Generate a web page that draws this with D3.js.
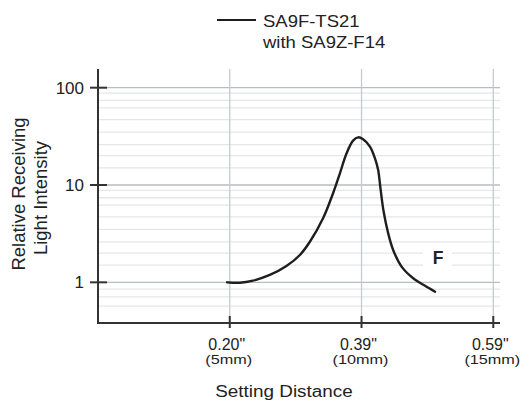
<!DOCTYPE html>
<html>
<head>
<meta charset="utf-8">
<script src="https://cdn.jsdelivr.net/npm/d3@7"></script>
<style>
  body { margin: 0; background: #fff; }
  text { font-family: "Liberation Sans", Arial, sans-serif; fill: #222; }
</style>
</head>
<body>
<div id="chart"></div>
<script>
// setting distance (mm) and relative receiving light intensity along the curve
const distance = [4.9, 5.38, 5.88, 6.52, 7.15, 7.66, 8.04, 8.54, 8.92, 9.18, 9.43, 9.68, 9.87,
  10.06, 10.32, 10.51, 10.63, 10.71, 10.83, 11.01, 11.2, 11.52, 11.96, 12.41, 12.79];
const intensity = [1.0, 0.99, 1.04, 1.19, 1.47, 1.91, 2.61, 4.55, 8.23, 13.2, 21.1, 28.6, 30.9,
  29.5, 24.8, 18.8, 14.3, 9.7, 5.5, 3.2, 2.15, 1.45, 1.1, 0.92, 0.8];

const xTicks = [5, 10, 15];
const xTickInch = ['0.20"', '0.39"', '0.59"'];
const xTickMm = ["(5mm)", "(10mm)", "(15mm)"];
const yTicks = [1, 10, 100];
const yMinor = [0.57, 0.71, 0.85, 1.5, 2, 2.6, 3.5, 4.7, 6.2, 7.4, 8.8,
  15, 20, 26, 35, 47, 62, 74, 88];
const seriesName = ["SA9F-TS21", "with SA9Z-F14"];

const width = 520;
const height = 401;
const margin = { top: 69, left: 98, bottom: 78, right: 20 };

const svg = d3.select("#chart").append("svg")
  .attr("width", width)
  .attr("height", height);

const x = d3.scaleLinear().domain([0, 15]).range([margin.left, 493.3]);
const y = d3.scaleLog().domain([0.382, 155.6]).range([height - margin.bottom, margin.top]);
const x0 = margin.left, x1 = width - margin.right;
const yBot = y.range()[0], yTop = y.range()[1];

// widen text horizontally like the original lettering
function stretch(sel, k) {
  sel.each(function () {
    const w = this.getComputedTextLength();
    d3.select(this).attr("textLength", w * k).attr("lengthAdjust", "spacingAndGlyphs");
  });
}

// minor grid
svg.append("g").selectAll("line").data(yMinor).enter().append("line")
  .attr("x1", x0).attr("x2", x1)
  .attr("y1", d => y(d)).attr("y2", d => y(d))
  .attr("stroke", "#e4e6e8").attr("stroke-width", 1.3);

// major grid
svg.append("g").selectAll("line").data(yTicks).enter().append("line")
  .attr("x1", x0).attr("x2", x1)
  .attr("y1", d => y(d)).attr("y2", d => y(d))
  .attr("stroke", "#b9bcbf").attr("stroke-width", 1.3);

// vertical grid
svg.append("g").selectAll("line").data(xTicks).enter().append("line")
  .attr("x1", d => x(d)).attr("x2", d => x(d))
  .attr("y1", yTop).attr("y2", yBot)
  .attr("stroke", "#c6cacf").attr("stroke-width", 1.3);

// label F with white box
svg.append("rect").attr("x", 423).attr("y", 245).attr("width", 29).attr("height", 22).attr("fill", "#fff");
svg.append("text").attr("x", 438).attr("y", 263.5).attr("text-anchor", "middle")
  .style("font-size", "17.5px").style("font-weight", "bold").text("F");

// curve
const pts = distance.map((d, i) => [d, intensity[i]]);
svg.append("path")
  .datum(pts)
  .attr("fill", "none")
  .attr("stroke", "#1e1e1e")
  .attr("stroke-width", 2.4)
  .attr("stroke-linecap", "round")
  .attr("d", d3.line().x(d => x(d[0])).y(d => y(d[1])).curve(d3.curveCatmullRom.alpha(0.5)));

// axes
svg.append("line").attr("x1", x0).attr("x2", x0).attr("y1", yTop).attr("y2", yBot + 1)
  .attr("stroke", "#333").attr("stroke-width", 2);
svg.append("line").attr("x1", x0 - 1).attr("x2", x1).attr("y1", yBot).attr("y2", yBot)
  .attr("stroke", "#333").attr("stroke-width", 2);

svg.append("g").selectAll("line").data(yTicks).enter().append("line")
  .attr("x1", x0 - 8).attr("x2", x0 + 9)
  .attr("y1", d => y(d)).attr("y2", d => y(d))
  .attr("stroke", "#333").attr("stroke-width", 2);
svg.append("g").selectAll("line").data(xTicks).enter().append("line")
  .attr("x1", d => x(d)).attr("x2", d => x(d))
  .attr("y1", yBot - 7).attr("y2", yBot + 5)
  .attr("stroke", "#333").attr("stroke-width", 2);

// tick labels
svg.append("g").selectAll("text").data(yTicks).enter().append("text")
  .attr("x", 84).attr("y", d => y(d) + 6)
  .attr("text-anchor", "end")
  .style("font-size", "17px")
  .text(d => d);

svg.append("g").selectAll("text").data(xTicks).enter().append("text")
  .attr("x", d => x(d) - 3).attr("y", 350)
  .attr("text-anchor", "middle")
  .style("font-size", "16px")
  .text((d, i) => xTickInch[i]);
svg.append("g").selectAll("text").data(xTicks).enter().append("text")
  .attr("x", d => x(d) - 1).attr("y", 364)
  .attr("text-anchor", "middle")
  .style("font-size", "13.5px")
  .text((d, i) => xTickMm[i])
  .call(stretch, 1.2);

// axis titles
svg.append("text").attr("x", 284).attr("y", 397).attr("text-anchor", "middle")
  .style("font-size", "16px").text("Setting Distance")
  .call(stretch, 1.18);
svg.append("text").attr("transform", "translate(24.5,194) rotate(-90)")
  .attr("text-anchor", "middle").style("font-size", "18.5px").text("Relative Receiving");
svg.append("text").attr("transform", "translate(47,198) rotate(-90)")
  .attr("text-anchor", "middle").style("font-size", "18.5px").text("Light Intensity");

// legend
svg.append("line").attr("x1", 217).attr("x2", 256).attr("y1", 20).attr("y2", 20)
  .attr("stroke", "#1e1e1e").attr("stroke-width", 2);
svg.append("g").selectAll("text").data(seriesName).enter().append("text")
  .attr("x", 263).attr("y", (d, i) => 27 + i * 20.5)
  .style("font-size", "16.5px")
  .text(d => d)
  .call(stretch, 1.12);
</script>
</body>
</html>
